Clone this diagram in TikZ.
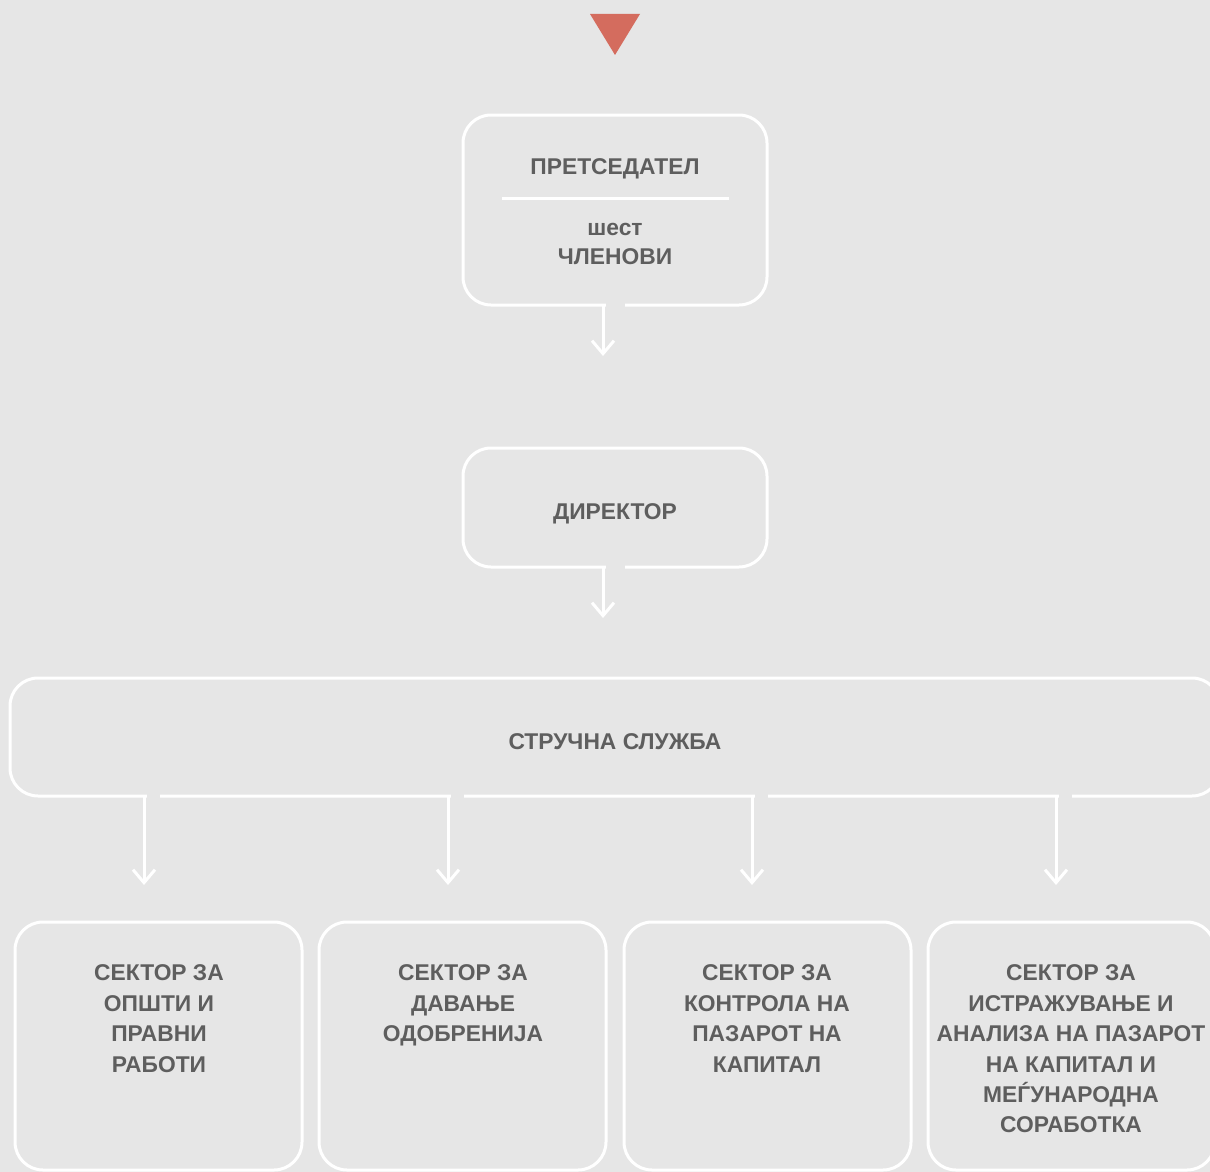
\documentclass[tikz,border=0pt]{standalone}
\usepackage{fontspec}
\setmainfont{Liberation Sans}
\usetikzlibrary{arrows.meta}
\definecolor{bg}{HTML}{E6E6E6}
\definecolor{txt}{HTML}{5E5E5E}
\definecolor{tri}{HTML}{D46C5E}
\begin{document}
\begin{tikzpicture}[x=1pt,y=-1pt,
  box/.style={draw=white, line width=3pt, rounded corners=28pt, inner sep=0pt, outer sep=0pt},
  lbl/.style={text=txt, font=\fontsize{22.8}{30.4}\selectfont\bfseries, align=center, inner sep=0pt},
  conn/.style={draw=white, line width=3pt, -{Straight Barb[length=13pt,width=22pt,line width=3pt]}},
  gapline/.style={draw=bg, line width=6pt}]
\fill[bg] (0,0) rectangle (1210,1172);
\useasboundingbox (0,0) rectangle (1210,1172);
\begin{scope}
\clip (0,0) rectangle (1210,1172);
% triangle
\fill[tri] (590,14) -- (640,14) -- (615,55) -- cycle;
% top box
\node[box, minimum width=304pt, minimum height=190pt] (pres) at (615,210) {};
\node[lbl, anchor=base] (presT) at (615,174.3) {ПРЕТСЕДАТЕЛ};
\draw[white, line width=3pt] (502,198) coordinate (sepA) -- (729,198) coordinate (sepB);
\node[lbl, anchor=base] (sest) at (615,235.3) {шест};
\node[lbl, anchor=base] (clen) at (615,264.3) {ЧЛЕНОВИ};
\coordinate (t1) at (603,356);
\draw[gapline] (605.5,305) -- (625,305);
\draw[conn] (pres.south -| t1) -- (t1);
% director
\node[box, minimum width=304pt, minimum height=119pt] (dir) at (615,507.5) {};
\node[lbl, anchor=base] (dirT) at (615,519.3) {ДИРЕКТОР};
\coordinate (t2) at (603,618);
\draw[gapline] (605.5,567) -- (625,567);
\draw[conn] (dir.south -| t2) -- (t2);
% big box
\node[box, minimum width=1210pt, minimum height=118pt] (ss) at (615,737) {};
\node[lbl, anchor=base] (ssT) at (615,749.3) {СТРУЧНА СЛУЖБА};
% sector boxes
\node[box, minimum width=287pt, minimum height=248pt] (s1) at (158.5,1046) {};
\node[box, minimum width=287pt, minimum height=248pt] (s2) at (462.5,1046) {};
\node[box, minimum width=287pt, minimum height=248pt] (s3) at (767.5,1046) {};
\node[box, minimum width=287pt, minimum height=248pt] (s4) at (1071.5,1046) {};
\node[lbl, anchor=north] (s1T) at (159,964.7) {СЕКТОР ЗА\\ОПШТИ И\\ПРАВНИ\\РАБОТИ};
\node[lbl, anchor=north] (s2T) at (463,964.7) {СЕКТОР ЗА\\ДАВАЊЕ\\ОДОБРЕНИЈА};
\node[lbl, anchor=north] (s3T) at (767,964.7) {СЕКТОР ЗА\\КОНТРОЛА НА\\ПАЗАРОТ НА\\КАПИТАЛ};
\node[lbl, anchor=north] (s4T) at (1071,964.7) {СЕКТОР ЗА\\ИСТРАЖУВАЊЕ И\\АНАЛИЗА НА ПАЗАРОТ\\НА КАПИТАЛ И\\МЕЃУНАРОДНА\\СОРАБОТКА};
% arrows from big box
\foreach \x/\n in {144/1,448/2,752/3,1056/4}{
  \coordinate (a\n) at (\x,885);
  \draw[gapline] (\x+2.5,796) -- (\x+16,796);
  \draw[conn] (ss.south -| a\n) -- (a\n);
}
\end{scope}
\end{tikzpicture}
\end{document}
